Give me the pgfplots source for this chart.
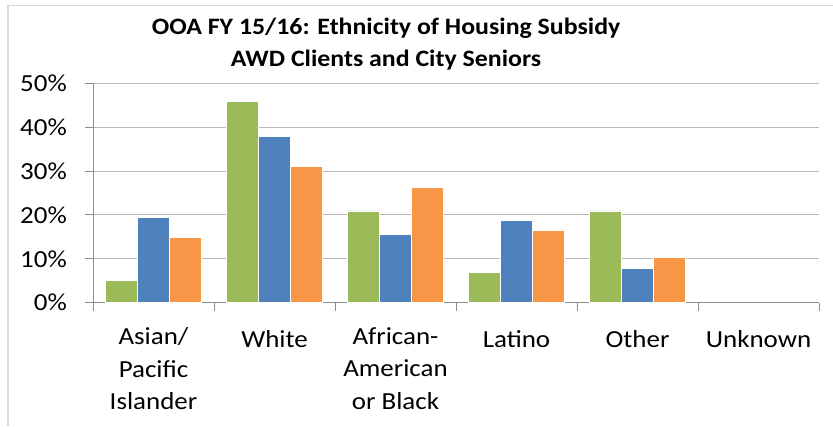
\documentclass[border=0pt]{standalone}
\usepackage{fontspec}
\setmainfont{Carlito}[FakeStretch=1.1]
\usepackage{pgfplots}
\pgfplotsset{compat=1.18}
\definecolor{cgreen}{HTML}{9BBB59}
\definecolor{cblue}{HTML}{4F81BD}
\definecolor{corange}{HTML}{F79646}
\definecolor{gridgray}{HTML}{B8B8B8}
\definecolor{axisgray}{HTML}{8C8C8C}
\definecolor{bordergray}{HTML}{D9D9D9}
\begin{document}
\begin{tikzpicture}
\useasboundingbox (0,0) rectangle (833pt,-426pt);
\draw[color=bordergray, line width=1.5pt] (8pt,-426pt) -- (8pt,-5.7pt) -- (833pt,-5.7pt);
\begin{axis}[
  at={(93pt,-302.7pt)}, anchor=south west,
  width=726pt, height=219.4pt, scale only axis,
  xmin=-0.5, xmax=5.5, ymin=0, ymax=50,
  axis x line*=bottom, axis y line*=left,
  axis line style={color=axisgray, line width=1pt},
  ymajorgrids, major grid style={color=gridgray, line width=1pt},
  ytick={0,10,20,30,40,50},
  yticklabels={0\%,10\%,20\%,30\%,40\%,50\%},
  xtick={0,1,2,3,4,5},
  xticklabels={{Asian/\\Pacific\\Islander},White,{African-\\American\\or Black},Latino,Other,Unknown},
  minor xtick={-0.5,0.5,1.5,2.5,3.5,4.5,5.5},
  major x tick style={draw=none},
  tick align=outside, major tick length=8pt, minor tick length=8pt,
  tick style={color=axisgray, line width=1pt},
  tick label style={font=\fontsize{24.5}{32.5}\selectfont, text=black},
  yticklabel style={anchor=east, inner sep=0pt, xshift=-18pt},
  xticklabel style={anchor=north, align=center, inner sep=0pt, yshift=-16.6pt,
    execute at begin node={\rule{0pt}{20pt}}},
  ybar, bar width=31.5pt,
]
\addplot[fill=cgreen, draw=white, line width=0.6pt, bar shift=-32pt]
  coordinates {(0,5.0) (1,45.8) (2,20.9) (3,6.9) (4,20.9)};
\addplot[fill=cblue, draw=white, line width=0.6pt, bar shift=0pt]
  coordinates {(0,19.5) (1,37.9) (2,15.5) (3,18.8) (4,7.8)};
\addplot[fill=corange, draw=white, line width=0.6pt, bar shift=32pt]
  coordinates {(0,14.8) (1,31.1) (2,26.3) (3,16.6) (4,10.4)};
\end{axis}
\node[anchor=base, inner sep=0pt, font=\fontsize{23.5}{32}\selectfont\bfseries] at (386pt,-34.3pt) {OOA FY 15/16: Ethnicity of Housing Subsidy};
\node[anchor=base, inner sep=0pt, font=\fontsize{23.5}{32}\selectfont\bfseries] at (386pt,-66.7pt) {AWD Clients and City Seniors};
\end{tikzpicture}
\end{document}
